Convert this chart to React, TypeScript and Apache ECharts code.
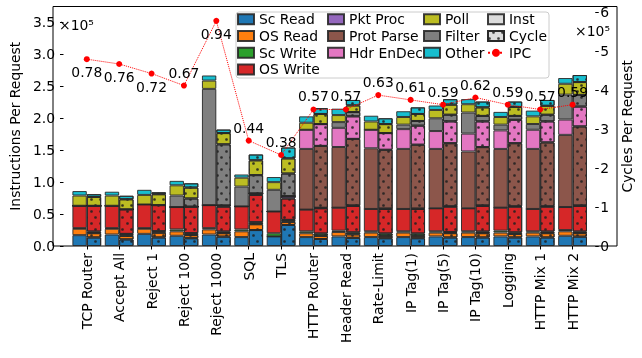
import React, { useEffect, useRef } from "react";
import * as echarts from "echarts";

const FONT = '"DejaVu Sans", sans-serif';

const categories = [
  "TCP Router", "Accept All", "Reject 1", "Reject 100", "Reject 1000", "SQL", "TLS",
  "HTTP Router", "Header Read", "Rate-Limit", "IP Tag(1)", "IP Tag(5)", "IP Tag(10)",
  "Logging", "HTTP Mix 1", "HTTP Mix 2",
];

// stacking order (bottom to top)
const segmentNames = [
  "Sc Read", "OS Read", "Sc Write", "OS Write", "Pkt Proc",
  "Prot Parse", "Hdr EnDec", "Filter", "Poll", "Other",
];
const segmentColors = [
  "#1f77b4", "#ff7f0e", "#2ca02c", "#d62728", "#9467bd",
  "#8c564b", "#e377c2", "#7f7f7f", "#bcbd22", "#17becf",
];

// Instructions per request (x10^5)
const instScRead = [0.17, 0.18, 0.19, 0.16, 0.18, 0.14, 0.15, 0.14, 0.15, 0.14, 0.14, 0.15, 0.14, 0.15, 0.15, 0.16];
const instOsRead = [0.10, 0.09, 0.08, 0.07, 0.08, 0.09, 0.00, 0.06, 0.07, 0.07, 0.07, 0.06, 0.07, 0.06, 0.06, 0.07];
const instScWrite = [0.01, 0.01, 0.01, 0.03, 0.02, 0.03, 0.05, 0.03, 0.02, 0.02, 0.02, 0.02, 0.02, 0.03, 0.02, 0.02];
const instOsWrite = [0.35, 0.35, 0.37, 0.35, 0.36, 0.36, 0.34, 0.34, 0.36, 0.35, 0.35, 0.36, 0.36, 0.36, 0.35, 0.36];
const instPktProc = [0, 0, 0, 0, 0, 0, 0, 0, 0, 0, 0, 0, 0, 0, 0, 0];
const instProtParse = [0, 0, 0, 0, 0, 0, 0, 0.95, 0.95, 0.95, 0.94, 0.93, 0.89, 0.92, 0.94, 1.13];
const instHdrEnDec = [0, 0, 0, 0, 0, 0, 0, 0.30, 0.30, 0.29, 0.31, 0.28, 0.28, 0.29, 0.30, 0.24];
const instFilter = [0, 0, 0, 0.18, 1.82, 0.31, 0.34, 0, 0.09, 0, 0.07, 0.20, 0.33, 0.09, 0.09, 0.39];
const instPoll = [0.16, 0.16, 0.15, 0.16, 0.13, 0.14, 0.12, 0.11, 0.11, 0.13, 0.12, 0.13, 0.13, 0.12, 0.12, 0.17];
const instOther = [0.07, 0.06, 0.08, 0.07, 0.08, 0.05, 0.08, 0.10, 0.10, 0.09, 0.09, 0.07, 0.08, 0.08, 0.09, 0.09];

// Cycles per request (x10^5)
const cycScRead = [0.22, 0.17, 0.22, 0.20, 0.24, 0.41, 0.54, 0.18, 0.21, 0.20, 0.20, 0.22, 0.22, 0.22, 0.22, 0.24];
const cycOsRead = [0.11, 0.09, 0.12, 0.08, 0.09, 0.15, 0.08, 0.08, 0.09, 0.06, 0.06, 0.11, 0.11, 0.09, 0.11, 0.09];
const cycScWrite = [0.04, 0.05, 0.04, 0.05, 0.04, 0.05, 0.05, 0.06, 0.05, 0.06, 0.06, 0.03, 0.04, 0.04, 0.04, 0.04];
const cycOsWrite = [0.66, 0.63, 0.67, 0.68, 0.64, 0.70, 0.55, 0.65, 0.68, 0.63, 0.63, 0.65, 0.66, 0.66, 0.64, 0.66];
const cycPktProc = [0, 0, 0, 0, 0.03, 0.04, 0.06, 0.01, 0.01, 0.01, 0.01, 0.01, 0.01, 0.01, 0.01, 0.01];
const cycProtParse = [0, 0, 0, 0, 0, 0, 0, 1.59, 1.71, 1.51, 1.64, 1.62, 1.50, 1.62, 1.64, 2.03];
const cycHdrEnDec = [0, 0, 0, 0, 0, 0, 0, 0.56, 0.58, 0.43, 0.49, 0.56, 0.66, 0.60, 0.54, 0.51];
const cycFilter = [0, 0, 0, 0.21, 1.57, 0.47, 0.58, 0, 0.11, 0, 0.12, 0.17, 0.14, 0.10, 0.17, 0.30];
const cycPoll = [0.23, 0.26, 0.28, 0.28, 0.29, 0.38, 0.39, 0.26, 0.17, 0.23, 0.18, 0.26, 0.22, 0.23, 0.23, 0.33];
const cycOther = [0.07, 0.09, 0.05, 0.11, 0.09, 0.15, 0.28, 0.15, 0.14, 0.15, 0.17, 0.14, 0.15, 0.14, 0.15, 0.18];

const ipc = [0.78, 0.76, 0.72, 0.67, 0.94, 0.44, 0.38, 0.57, 0.57, 0.63, 0.61, 0.59, 0.62, 0.59, 0.57, 0.59];
const ipcLabelBelow = [true, true, true, false, true, false, false, false, false, false, false, false, false, false, false, false];

const leftTickMax = 3.75;
const rightTickMax = 6.15;

const legendColumns = [
  ["Sc Read", "OS Read", "Sc Write", "OS Write"],
  ["Pkt Proc", "Prot Parse", "Hdr EnDec"],
  ["Poll", "Filter", "Other"],
  ["Inst", "Cycle", "IPC"],
];
const legendLefts = [237, 327, 423, 487];

export default function App() {
  const ref = useRef<HTMLDivElement>(null);
  useEffect(() => {
    const chart = echarts.init(ref.current!, undefined, { renderer: "svg" });
    const instData = [instScRead, instOsRead, instScWrite, instOsWrite, instPktProc, instProtParse, instHdrEnDec, instFilter, instPoll, instOther];
    const cycData = [cycScRead, cycOsRead, cycScWrite, cycOsWrite, cycPktProc, cycProtParse, cycHdrEnDec, cycFilter, cycPoll, cycOther];
    const edge = "rgba(40,40,40,0.9)";
    const decal = {
      symbol: "circle",
      symbolSize: 0.9,
      color: "rgba(30,30,30,0.85)",
      dashArrayX: [[2.4, 5.6], [0, 4, 2.4, 1.6]],
      dashArrayY: [2.4, 2.3],
      rotation: 0,
    };
    const barCommon = { type: "bar", barWidth: 14.4, barGap: "0%", xAxisIndex: 0 };
    const series: any[] = [];
    segmentNames.forEach((name, i) => {
      series.push({
        ...barCommon, name, stack: "inst", yAxisIndex: 0, data: instData[i],
        itemStyle: { color: segmentColors[i], borderColor: edge, borderWidth: 1 },
      });
    });
    series.push({
      ...barCommon, name: "Inst", stack: "inst", yAxisIndex: 0, data: [],
      itemStyle: { color: "#dcdcdc", borderColor: edge, borderWidth: 1 },
    });
    segmentNames.forEach((name, i) => {
      series.push({
        ...barCommon, name, stack: "cyc", yAxisIndex: 1, data: cycData[i],
        itemStyle: { color: segmentColors[i], borderColor: edge, borderWidth: 1, decal },
      });
    });
    series.push({
      ...barCommon, name: "Cycle", stack: "cyc", yAxisIndex: 1, data: [],
      itemStyle: { color: "#dcdcdc", borderColor: edge, borderWidth: 1, decal },
    });
    series.push({
      type: "line", name: "IPC", xAxisIndex: 0, yAxisIndex: 2, z: 5,
      data: ipc.map((v, i) => ({ value: v, label: { position: ipcLabelBelow[i] ? "bottom" : "top" } })),
      symbol: "circle", symbolSize: 6,
      itemStyle: { color: "#ff0000" },
      lineStyle: { color: "#ff0000", type: "dotted", width: 1 },
      label: {
        show: true, distance: 3, fontSize: 13.9, color: "#000", fontFamily: FONT,
        formatter: (p: any) => Number(p.value).toFixed(2),
      },
    });

    const legends = legendColumns.map((names, ci) => ({
      orient: "vertical",
      left: legendLefts[ci],
      top: 11,
      padding: 0,
      itemGap: 0,
      itemWidth: 16,
      itemHeight: 10,
      ...(ci < 3 ? { icon: "rect" } : {}),
      data: names.map((n) => (n === "IPC" ? { name: n } : { name: n, icon: "rect" })),
      textStyle: { fontSize: 13.9, color: "#000", fontFamily: FONT, lineHeight: 16.7 },
      z: 6,
    }));

    const axisLabelStyle = { fontSize: 13.9, color: "#000", fontFamily: FONT };

    const option: any = {
      animation: false,
      textStyle: { fontFamily: FONT },
      grid: [
        { left: 60.1, right: 31.5, top: 6.5, bottom: 112, containLabel: false },
        { left: 53, right: 25, top: 6.5, bottom: 112, show: true, borderColor: "#000", borderWidth: 1, backgroundColor: "transparent" },
      ],
      xAxis: [
        {
          type: "category", gridIndex: 0, data: categories,
          axisLine: { show: false },
          axisTick: { show: true, alignWithLabel: true, length: 3.5, lineStyle: { color: "#000" } },
          axisLabel: { ...axisLabelStyle, rotate: 90, interval: 0, margin: 7 },
          splitLine: { show: false },
        },
        { type: "value", gridIndex: 1, show: false, min: 0, max: 1 },
      ],
      yAxis: [
        {
          type: "value", gridIndex: 0, position: "left", offset: 7.1,
          min: 0, max: leftTickMax, interval: 0.5,
          axisLine: { show: false },
          axisTick: { show: true, length: 3.5, lineStyle: { color: "#000" } },
          axisLabel: { ...axisLabelStyle, margin: 8.5, showMaxLabel: false, formatter: (v: number) => v.toFixed(1) },
          splitLine: { show: false },
          name: "Instructions Per Request", nameLocation: "middle", nameGap: 33.5,
          nameTextStyle: { ...axisLabelStyle },
        },
        {
          type: "value", gridIndex: 0, position: "right", offset: 6.5,
          min: 0, max: rightTickMax, interval: 1,
          axisLine: { show: false },
          axisTick: { show: true, length: 3.5, lineStyle: { color: "#000" } },
          axisLabel: { ...axisLabelStyle, margin: 5, showMaxLabel: false, formatter: (v: number) => String(Math.round(v)) },
          splitLine: { show: false },
          name: "Cycles Per Request", nameLocation: "middle", nameGap: 23,
          nameTextStyle: { ...axisLabelStyle },
        },
        { type: "value", gridIndex: 0, show: false, min: 0, max: 1 },
        { type: "value", gridIndex: 1, show: false, min: 0, max: 1 },
      ],
      legend: legends,
      graphic: [
        {
          type: "rect", z: 5,
          shape: { x: 236, y: 12, width: 313, height: 66, r: 3 },
          style: { fill: "rgba(255,255,255,0.8)", stroke: "#cccccc", lineWidth: 1 },
        },
        {
          type: "text", x: 59, y: 18, z: 5,
          style: { text: "×10⁵", font: `13.9px ${FONT}`, fill: "#000", align: "left", verticalAlign: "top" },
        },
        {
          type: "text", x: 610, y: 24, z: 5,
          style: { text: "×10⁵", font: `13.9px ${FONT}`, fill: "#000", align: "right", verticalAlign: "top" },
        },
      ],
      series,
    };
    chart.setOption(option);
    return () => chart.dispose();
  }, []);
  return <div ref={ref} style={{ position: "fixed", left: 0, top: 0, width: 642, height: 358 }} />;
}
